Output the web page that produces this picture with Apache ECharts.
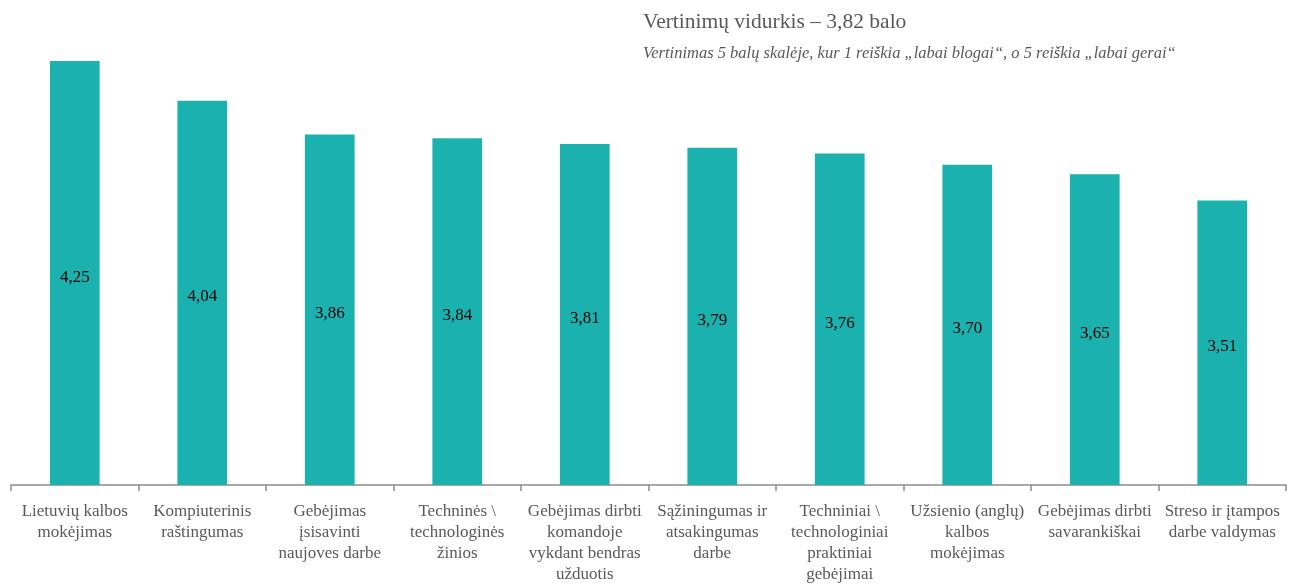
<!DOCTYPE html>
<html><head><meta charset="utf-8">
<script src="https://cdn.jsdelivr.net/npm/echarts@6/dist/echarts.min.js"></script>
<style>html,body{margin:0;padding:0;background:#fff}#c{width:1305px;height:585px}</style>
</head><body><div id="c"></div>
<script>
const categories = [
  "Lietuvių kalbos\nmokėjimas",
  "Kompiuterinis\nraštingumas",
  "Gebėjimas\nįsisavinti\nnaujoves darbe",
  "Techninės \\\ntechnologinės\nžinios",
  "Gebėjimas dirbti\nkomandoje\nvykdant bendras\nužduotis",
  "Sąžiningumas ir\natsakingumas\ndarbe",
  "Techniniai \\\ntechnologiniai\npraktiniai\ngebėjimai",
  "Užsienio (anglų)\nkalbos\nmokėjimas",
  "Gebėjimas dirbti\nsavarankiškai",
  "Streso ir įtampos\ndarbe valdymas"
];
const values = [4.25, 4.04, 3.86, 3.84, 3.81, 3.79, 3.76, 3.70, 3.65, 3.51];
const titleText = "Vertinimų vidurkis – 3,82 balo";
const subtitleText = "Vertinimas 5 balų skalėje, kur 1 reiškia „labai blogai“, o 5 reiškia „labai gerai“";

const chart = echarts.init(document.getElementById('c'), null, {renderer: 'canvas'});
chart.setOption({
  animation: false,
  textStyle: {fontFamily: 'Liberation Serif'},
  title: [
    {text: titleText, left: 638, top: 6, textStyle: {fontFamily: 'Liberation Serif', fontSize: 21.5, fontWeight: 'normal', color: '#595959'}},
    {text: subtitleText, left: 638, top: 40, textStyle: {fontFamily: 'Liberation Serif', fontSize: 16.5, fontStyle: 'italic', fontWeight: 'normal', color: '#595959'}}
  ],
  grid: {left: 11, right: 19, top: 14, bottom: 99, containLabel: false},
  xAxis: {
    type: 'category',
    data: categories,
    axisLine: {lineStyle: {color: '#8c8c8c', width: 1.5}},
    axisTick: {show: true, length: 6, lineStyle: {color: '#8c8c8c', width: 1.5}},
    axisLabel: {interval: 0, color: '#595959', fontSize: 17, lineHeight: 21, margin: 16, fontFamily: 'Liberation Serif'}
  },
  yAxis: {
    type: 'value', min: 2, max: 4.5, show: false,
    splitLine: {show: false}
  },
  series: [{
    type: 'bar',
    data: values,
    barWidth: '39%',
    itemStyle: {color: '#1BB1AE'},
    label: {
      show: true, position: 'inside', offset: [0, 4], color: '#000', fontSize: 17, fontFamily: 'Liberation Serif',
      formatter: p => p.value.toFixed(2).replace('.', ',')
    }
  }]
});
</script></body></html>
